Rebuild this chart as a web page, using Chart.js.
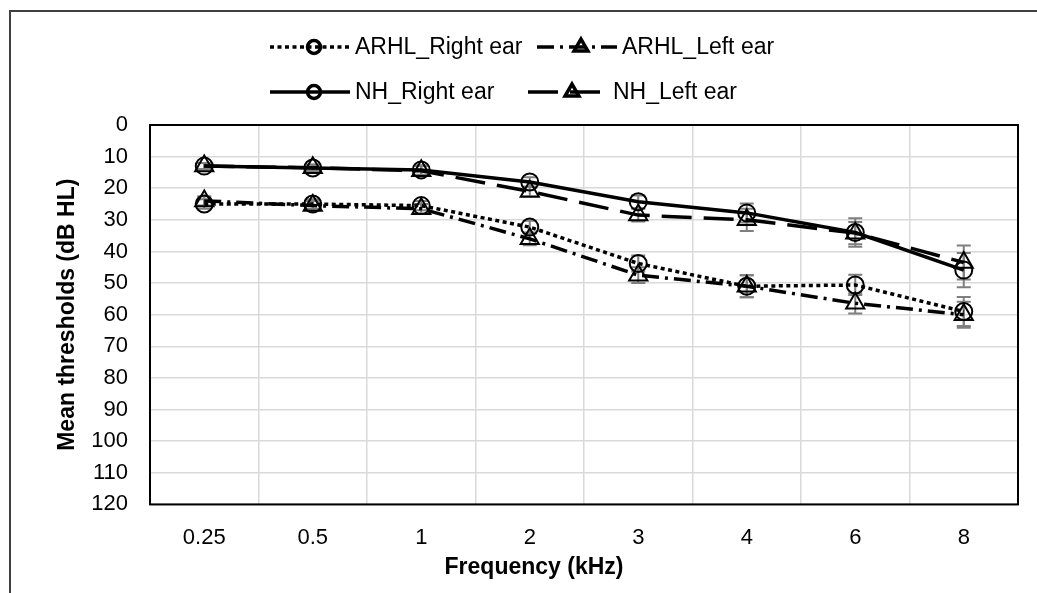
<!DOCTYPE html>
<html lang="en">
<head>
<meta charset="UTF-8">
<title>Mean hearing thresholds</title>
<script src="https://cdn.jsdelivr.net/npm/chart.js@4"></script>
<style>
  body { margin: 0; background: #fff; overflow: hidden; }
  #frame { position: absolute; left: 9px; top: 10px; width: 1100px; height: 700px; border: 2px solid #404040; }
  #wrap { position: absolute; left: 0; top: 0; width: 1037px; height: 593px; }
</style>
</head>
<body>
<div id="frame"></div>
<div id="wrap"><canvas id="chart"></canvas></div>
<script>
// frequencies on the x axis (kHz)
const frequencies = ['0.25', '0.5', '1', '2', '3', '4', '6', '8'];

// mean thresholds, dB HL
const arhlRight = [25, 25, 25.5, 32.3, 43.8, 51, 50.6, 59];
const arhlLeft  = [24, 25.5, 26.5, 36, 47.5, 51, 56.4, 60];
const nhRight   = [13, 13.6, 14.2, 18, 24.3, 27.8, 34, 45.9];
const nhLeft    = [13, 13.5, 14.5, 21, 28.5, 30, 34.2, 43.5];

// error bar half-widths, dB
const arhlRightErr = [1.5, 1.5, 1.5, 2, 2.5, 3.5, 3.2, 4.6];
const arhlLeftErr  = [1.5, 1.5, 1.5, 2, 2.5, 3.5, 3.2, 4.1];
const nhRightErr   = [1, 1, 1.5, 1.5, 2, 3, 4.5, 5.4];
const nhLeftErr    = [1, 1, 1.5, 1.5, 2, 3.5, 3.5, 5.4];

const FONT = '"Liberation Sans", Arial, sans-serif';
Chart.defaults.font.family = FONT;
Chart.defaults.color = '#000';

// gray error bars drawn under the lines, plus the plot frame
const errorBars = {
  id: 'errorBars',
  beforeDatasetsDraw(chart) {
    const { ctx, scales: { x, y } } = chart;
    ctx.save();
    ctx.strokeStyle = '#7f7f7f';
    ctx.lineWidth = 2;
    chart.data.datasets.forEach(ds => {
      ds.data.forEach((v, i) => {
        const e = ds.errors[i];
        const px = x.getPixelForValue(i);
        const top = y.getPixelForValue(v - e);
        const bot = y.getPixelForValue(v + e);
        ctx.beginPath();
        ctx.moveTo(px, top); ctx.lineTo(px, bot);
        ctx.moveTo(px - 7, top); ctx.lineTo(px + 7, top);
        ctx.moveTo(px - 7, bot); ctx.lineTo(px + 7, bot);
        ctx.stroke();
      });
    });
    const a = chart.chartArea;
    ctx.strokeStyle = '#000';
    ctx.lineWidth = 2;
    ctx.strokeRect(a.left, a.top, a.right - a.left, a.bottom - a.top);
    ctx.restore();
  }
};

// excel style legend: line sample with marker, two per row
const lineLegend = {
  id: 'lineLegend',
  afterDraw(chart) {
    const ctx = chart.ctx;
    const slots = [[270, 47], [537, 47], [270, 92], [528, 92]];
    chart.data.datasets.forEach((ds, i) => {
      const [x0, yc] = slots[i];
      ctx.save();
      ctx.strokeStyle = '#000';
      ctx.lineWidth = ds.borderWidth;
      ctx.setLineDash(ds.borderDash || []);
      ctx.beginPath();
      ctx.moveTo(x0, yc);
      ctx.lineTo(x0 + 80, yc);
      ctx.stroke();
      ctx.setLineDash([]);
      ctx.fillStyle = 'rgba(0,0,0,0)';
      Chart.helpers.drawPoint(ctx, {
        pointStyle: ds.pointStyle,
        radius: ds.pointStyle === 'circle' ? 6.5 : 8,
        borderWidth: 2,
        rotation: 0
      }, x0 + 44, yc);
      ctx.fillStyle = '#000';
      ctx.font = '23px ' + FONT;
      ctx.textBaseline = 'middle';
      ctx.fillText(ds.label, x0 + 85, yc + 1);
      ctx.restore();
    });
  }
};

function series(label, data, errors, style, dash) {
  return {
    label,
    data,
    errors,
    borderColor: '#000',
    borderWidth: 3.5,
    borderDash: dash,
    borderCapStyle: 'butt',
    pointStyle: style,
    pointRadius: style === 'circle' ? 8.5 : 10.5,
    pointBorderWidth: 2,
    pointBorderColor: '#000',
    pointBackgroundColor: 'rgba(0,0,0,0)',
    tension: 0,
    fill: false
  };
}

new Chart(document.getElementById('chart'), {
  type: 'line',
  data: {
    labels: frequencies,
    datasets: [
      series('ARHL_Right ear', arhlRight, arhlRightErr, 'circle', [4, 3.5]),
      series('ARHL_Left ear', arhlLeft, arhlLeftErr, 'triangle', [17, 6, 3, 6]),
      series('NH_Right ear', nhRight, nhRightErr, 'circle', []),
      series('NH_Left ear', nhLeft, nhLeftErr, 'triangle', [30, 12])
    ]
  },
  options: {
    responsive: true,
    maintainAspectRatio: false,
    animation: false,
    layout: { padding: { left: 50, right: 19, top: 125, bottom: 2 } },
    plugins: {
      legend: { display: false },
      tooltip: { enabled: false },
      title: {
        display: true,
        position: 'bottom',
        text: 'Frequency (kHz)',
        font: { size: 23, weight: 'bold' },
        color: '#000',
        padding: { top: 4, bottom: 10 }
      }
    },
    scales: {
      x: {
        offset: true,
        grid: { offset: true, color: '#d9d9d9', lineWidth: 1.5, drawTicks: false },
        border: { display: false },
        ticks: { padding: 20, font: { size: 22 }, color: '#000' },
        afterFit(scale) { scale.height = 45; }
      },
      y: {
        reverse: true,
        min: 0,
        max: 120,
        grid: { color: '#d9d9d9', lineWidth: 1.5, drawTicks: false },
        border: { display: false },
        ticks: { stepSize: 10, padding: 22, font: { size: 22 }, color: '#000' },
        title: {
          display: true,
          text: 'Mean thresholds (dB HL)',
          font: { size: 23, weight: 'bold' },
          color: '#000',
          padding: { top: 4, bottom: 12 }
        },
        afterFit(scale) { scale.width = 100; }
      }
    }
  },
  plugins: [errorBars, lineLegend]
});
</script>
</body>
</html>
